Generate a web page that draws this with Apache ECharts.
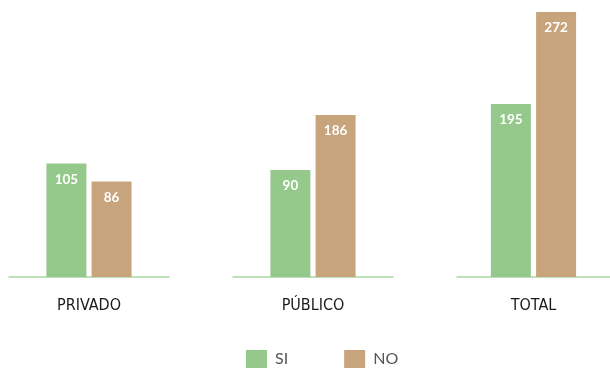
<!DOCTYPE html>
<html><head><meta charset="utf-8">
<script src="https://cdn.jsdelivr.net/npm/echarts@6/dist/echarts.min.js"></script>
<style>html,body{margin:0;padding:0;background:#fff}#c{width:610px;height:369px}</style>
</head><body><div id="c"></div>
<script>
var categories = ['PRIVADO', 'PÚBLICO', 'TOTAL'];
var seriesNames = ['SI', 'NO'];
var siValues = [105, 90, 195];
var noValues = [86, 186, 272];
// per-panel value-axis ranges, as drawn in the reference (panels are not on a shared scale)
var axisMin = [-15, -97, 50];
var axisMax = [265, 366, 272];

var colors = ['#95C98B', '#C8A47C'];
var chart = echarts.init(document.getElementById('c'));
var grids = [], xAxes = [], yAxes = [], series = [];
categories.forEach(function (cat, i) {
  grids.push({left: 9 + i * 224, top: 12, width: 160, height: 265});
  xAxes.push({
    type: 'category', gridIndex: i, data: [cat],
    axisLine: {show: true, onZero: false, lineStyle: {color: '#A9D8A2', width: 1.5}},
    axisTick: {show: false},
    axisLabel: {color: '#1a1a1a', fontSize: 16,
      fontFamily: "'Liberation Sans Narrow', 'DejaVu Sans Condensed', Lato", margin: 21}
  });
  yAxes.push({type: 'value', gridIndex: i, min: axisMin[i], max: axisMax[i],
    startValue: axisMin[i], show: false, splitLine: {show: false}});
  [siValues, noValues].forEach(function (vals, s) {
    series.push({
      name: seriesNames[s], type: 'bar', xAxisIndex: i, yAxisIndex: i,
      data: [vals[i]], barWidth: 40, barGap: '13%',
      itemStyle: {color: colors[s]},
      label: {show: true, position: 'insideTop', distance: 9, color: '#fff',
        fontWeight: 'bold', fontSize: 13.5, fontFamily: 'Lato'}
    });
  });
});
chart.setOption({
  animation: false,
  grid: grids, xAxis: xAxes, yAxis: yAxes, series: series,
  legend: {
    data: seriesNames, left: 241, top: 345, itemWidth: 21, itemHeight: 18, itemGap: 56,
    icon: 'rect',
    textStyle: {color: '#555', fontSize: 16, fontFamily: 'Lato', padding: [0, 0, 0, 3]}
  }
});
</script></body></html>
